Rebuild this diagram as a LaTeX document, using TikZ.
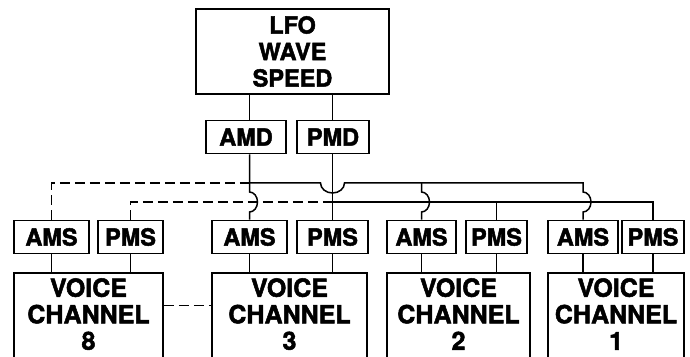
\documentclass[tikz,border=0pt]{standalone}
\usepackage{fontspec}
\setmainfont{TeX Gyre Heros}[BoldFeatures={FakeBold=2}]
\usepackage{tikz}
\usetikzlibrary{calc}

\begin{document}
\begin{tikzpicture}[x=1pt,y=1pt,
  box/.style={draw,line width=1.8pt,inner sep=0pt,align=center},
  tag/.style={box,minimum height=33pt,font=\fontsize{23.5}{24}\selectfont\bfseries},
  voice/.style={box,minimum height=88pt,text depth=6pt,font=\fontsize{25}{26.5}\selectfont\bfseries},
  wire/.style={line width=1.5pt},
  dwire/.style={wire,dash pattern=on 10pt off 5pt}]
  \useasboundingbox (0,0) rectangle (690,356);
  \clip (0,0) rectangle (690,356);
  \node[box,minimum width=193pt,minimum height=85pt,font=\fontsize{23.5}{26.5}\selectfont\bfseries] (lfo) at (292.5,304.5) {LFO\\WAVE\\SPEED};
  \node[tag,minimum width=80pt] (amd) at (246,219) {AMD};
  \node[tag,minimum width=72pt] (pmd) at (333,219) {PMD};
  \node[tag,minimum width=75pt] (ams8) at (51.5,119) {AMS};
  \node[tag,minimum width=65pt] (pms8) at (130.5,119) {PMS};
  \node[tag,minimum width=75pt] (ams3) at (249.5,119) {AMS};
  \node[tag,minimum width=71pt] (pms3) at (332.5,119) {PMS};
  \node[tag,minimum width=69pt] (ams2) at (421.5,119) {AMS};
  \node[tag,minimum width=61pt] (pms2) at (496.5,119) {PMS};
  \node[tag,minimum width=70pt] (ams1) at (583,119) {AMS};
  \node[tag,minimum width=62pt] (pms1) at (653,119) {PMS};
  \node[voice,minimum width=149pt] (vc8) at (88.5,39) {VOICE\\CHANNEL\\8};
  \node[voice,minimum width=155pt] (vc3) at (289.5,39) {VOICE\\CHANNEL\\3};
  \node[voice,minimum width=143pt] (vc2) at (458.5,39) {VOICE\\CHANNEL\\2};
  \node[voice,minimum width=136pt] (vc1) at (616,39) {VOICE\\CHANNEL\\1};
  \coordinate (busA) at (0,173);
  \coordinate (busB) at (0,154);
  % from the LFO
  \draw[wire] (lfo.south -| ams3) -- (amd.north -| ams3);
  \draw[wire] (lfo.south -| pms3) -- (pmd.north -| pms3);
  \draw[wire] (amd.south -| ams3) -- ($(ams3 |- busB)+(0,10)$) arc[start angle=90,end angle=-90,x radius=8,y radius=10] -- (ams3.north);
  \draw[wire] (pmd.south -| pms3) -- (pms3.north);
  % AM bus
  \draw[dwire] (ams8.north) |- (ams3 |- busA);
  \draw[wire] (ams3 |- busA) -- ($(pms3 |- busA)+(-12,0)$) arc[start angle=180,end angle=360,x radius=12,y radius=10] -- (ams1 |- busA) -- ($(ams1 |- busB)+(0,10)$) arc[start angle=90,end angle=-90,x radius=8,y radius=10] -- (ams1.north);
  \draw[wire] (ams2 |- busA) -- ($(ams2 |- busB)+(0,10)$) arc[start angle=90,end angle=-90,x radius=8,y radius=10] -- (ams2.north);
  % PM bus
  \draw[dwire] (pms8.north) |- (pms3 |- busB);
  \draw[wire] (pms3 |- busB) -| (pms1.north);
  \draw[wire] (pms2 |- busB) -- (pms2.north);
  % into the channels
  \draw[wire] (ams8.south) -- (vc8.north -| ams8);
  \draw[wire] (pms8.south) -- (vc8.north -| pms8);
  \draw[wire] (ams3.south) -- (vc3.north -| ams3);
  \draw[wire] (pms3.south) -- (vc3.north -| pms3);
  \draw[wire] (ams2.south) -- (vc2.north -| ams2);
  \draw[wire] (pms2.south) -- (vc2.north -| pms2);
  \draw[wire] (ams1.south) -- (vc1.north -| ams1);
  \draw[wire] (pms1.south) -- (vc1.north -| pms1);
  \draw[dwire] ([yshift=11.5pt]vc8.east) -- ([yshift=11.5pt]vc3.west);
\end{tikzpicture}
\end{document}
